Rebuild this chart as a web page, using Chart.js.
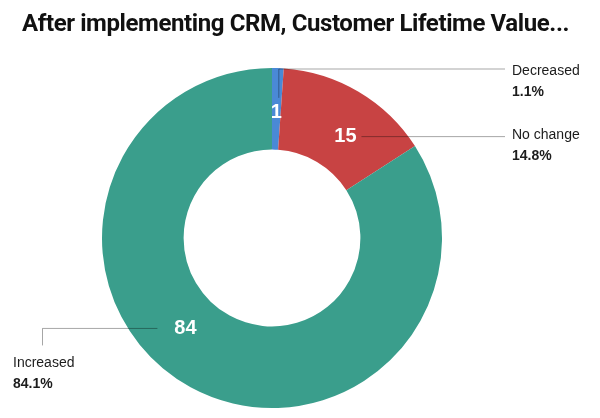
<!DOCTYPE html>
<html>
<head>
<meta charset="utf-8">
<script src="https://cdn.jsdelivr.net/npm/chart.js@4"></script>
<style>
  html, body { margin: 0; padding: 0; background: #fff; }
  #wrap { width: 600px; height: 418px; }
</style>
</head>
<body>
<div id="wrap"><canvas id="crm"></canvas></div>
<script>
const categories = ['Decreased', 'No change', 'Increased'];
const shares = [1.1, 14.8, 84.1];
const colors = ['#4a89d6', '#c84343', '#3a9e8c'];
const titleText = 'After implementing CRM, Customer Lifetime Value...';

// where inside each slice the white number sits (fraction of the arc)
const labelFrac = [0.5, 0.6, 0.55];

const sliceLabels = {
  id: 'sliceLabels',
  afterDatasetsDraw(chart) {
    const ctx = chart.ctx;
    const arcs = chart.getDatasetMeta(0).data;
    ctx.save();

    // title, drawn by hand so Chart.js does not squeeze it to the box width
    ctx.textAlign = 'left';
    ctx.textBaseline = 'middle';
    ctx.fillStyle = '#111';
    ctx.font = 'bold 24px Roboto, "Liberation Sans", sans-serif';
    ctx.letterSpacing = '-0.4px';
    ctx.fillText(titleText, 22, 25);
    ctx.letterSpacing = '0px';

    arcs.forEach((arc, i) => {
      const p = arc.getProps(['x', 'y', 'startAngle', 'endAngle', 'innerRadius', 'outerRadius'], true);
      const a = p.startAngle + (p.endAngle - p.startAngle) * labelFrac[i];
      const r = (p.innerRadius + p.outerRadius) / 2 - 4;
      const lx = p.x + Math.cos(a) * r;
      const ly = p.y + Math.sin(a) * r;

      // leader line
      ctx.strokeStyle = 'rgba(0,0,0,0.35)';
      ctx.lineWidth = 1;
      ctx.beginPath();
      let tx, ty;
      if (i === 0) {
        const top = p.y - p.outerRadius + 1;
        ctx.moveTo(lx + 2.5, ly - 15);
        ctx.lineTo(lx + 2.5, top);
        ctx.lineTo(505, top);
        tx = 512; ty = top + 2;
      } else if (i === 1) {
        ctx.moveTo(lx + 16, ly);
        ctx.lineTo(505, ly);
        tx = 512; ty = ly - 1;
      } else {
        ctx.moveTo(lx - 28, ly);
        ctx.lineTo(42.5, ly);
        ctx.lineTo(42.5, ly + 17);
        tx = 13; ty = ly + 35;
      }
      ctx.stroke();

      // outside label
      ctx.textAlign = 'left';
      ctx.fillStyle = '#1c1c1c';
      ctx.font = '14px "Liberation Sans", Arial, sans-serif';
      ctx.fillText(categories[i], tx, ty);
      ctx.font = 'bold 14px "Liberation Sans", Arial, sans-serif';
      ctx.fillText(shares[i].toFixed(1) + '%', tx, ty + 21);

      // number inside slice
      ctx.textAlign = 'center';
      ctx.fillStyle = '#ffffff';
      ctx.font = 'bold 20px "Liberation Sans", Arial, sans-serif';
      ctx.fillText(String(Math.round(shares[i])), lx, ly);
    });
    ctx.restore();
  }
};

new Chart(document.getElementById('crm'), {
  type: 'doughnut',
  data: {
    labels: categories,
    datasets: [{
      data: shares,
      backgroundColor: colors,
      borderWidth: 0,
      hoverOffset: 0
    }]
  },
  options: {
    responsive: true,
    maintainAspectRatio: false,
    animation: false,
    cutout: '52%',
    layout: { padding: { left: 22, right: 78, top: 68, bottom: 10 } },
    plugins: {
      legend: { display: false },
      tooltip: { enabled: false },
      title: { display: false }
    }
  },
  plugins: [sliceLabels]
});
</script>
</body>
</html>
